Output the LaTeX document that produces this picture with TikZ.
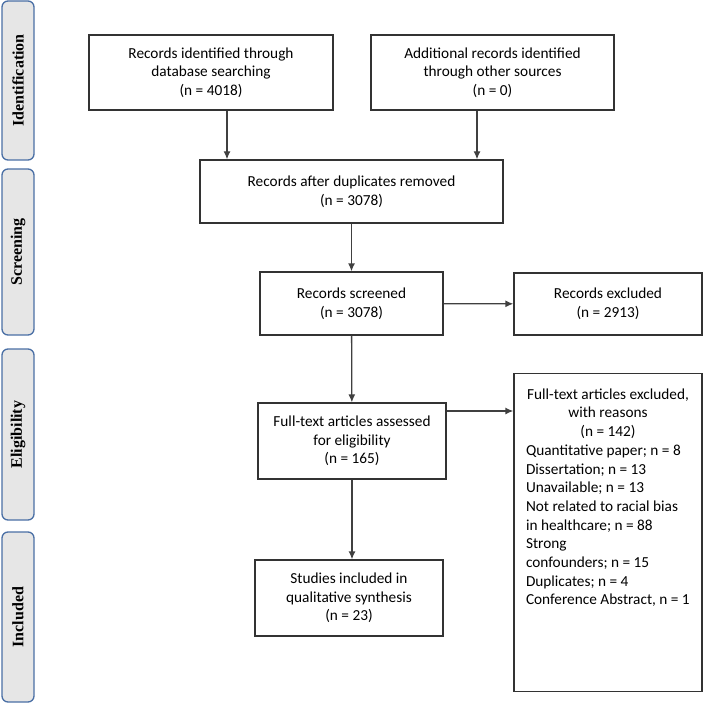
\documentclass[tikz,border=0pt]{standalone}
\usepackage{fontspec}
\setmainfont{Carlito}
\newfontfamily\stagefont{Liberation Serif}
\usetikzlibrary{arrows.meta,positioning,calc}

\definecolor{stageline}{HTML}{4A6FA5}
\definecolor{stagefill}{HTML}{E6E6E6}

\begin{document}
\begin{tikzpicture}[x=1pt,y=-1pt,
box/.style={draw=black!80,line width=1.3pt,rectangle,align=center,inner sep=0pt,
  font=\fontsize{15.3}{18.7}\selectfont},
stage/.style={draw=stageline,fill=stagefill,line width=1.3pt,rounded corners=6pt,
  rotate=90,minimum height=32pt,inner sep=0pt,font=\stagefont\bfseries\fontsize{16}{19}\selectfont},
arr/.style={draw=black!75,line width=1.3pt,-{Latex[length=8pt,width=7pt]}}]

\useasboundingbox (0,0) rectangle (703,703);

% stage labels
\node[stage,minimum width=159pt] (sid) at (18,80.5) {Identification};
\node[stage,minimum width=166pt] (ssc) at (18,252) {Screening};
\node[stage,minimum width=171pt] (sel) at (18,434.5) {Eligibility};
\node[stage,minimum width=170pt] (sin) at (18,617) {Included};

% flow boxes
\node[box,minimum width=244pt,minimum height=75pt] (ident) at (211,72.5)
  {Records identified through\\database searching\\(n = 4018)};
\node[box,minimum width=243pt,minimum height=75pt] (addit) at (492.5,72.5)
  {Additional records identified\\through other sources\\(n = 0)};
\node[box,minimum width=303pt,minimum height=63pt] (dups) at (351.5,191.5)
  {Records after duplicates removed\\(n = 3078)};
\node[box,minimum width=183pt,minimum height=63pt] (screen) at (351.5,303.5)
  {Records screened\\(n = 3078)};
\node[box,minimum width=188pt,minimum height=62pt] (excl) at (608,304)
  {Records excluded\\(n = 2913)};
\node[box,minimum width=188pt,minimum height=76pt] (assess) at (352,441)
  {Full-text articles assessed\\for eligibility\\(n = 165)};
\node[box,minimum width=188pt,minimum height=76pt] (incl) at (349,598)
  {Studies included in\\qualitative synthesis\\(n = 23)};
\node[box,anchor=north,minimum width=188pt,minimum height=318pt,inner xsep=12pt,inner ysep=15pt] (ftex) at (608,373)
  {\begin{minipage}[t][288pt][t]{164pt}
  {\centering Full-text articles excluded,\\with reasons\\(n = 142)\par}
  \raggedright
  Quantitative paper; n = 8\\
  Dissertation; n = 13\\
  Unavailable; n = 13\\
  Not related to racial bias\\
  in healthcare; n = 88\\
  Strong\\
  confounders; n = 15\\
  Duplicates; n = 4\\
  Conference Abstract, n = 1
  \end{minipage}};

% connectors
\draw[arr] ([xshift=16pt]ident.south) -- ([xshift=16pt]ident.south |- dups.north);
\draw[arr] ([xshift=-15.5pt]addit.south) -- ([xshift=-15.5pt]addit.south |- dups.north);
\draw[arr] (dups) -- (screen);
\draw[arr] (screen) -- (excl);
\draw[arr] (screen) -- (assess);
\draw[arr] ([yshift=30pt]assess.east) -- ([yshift=30pt]assess.east -| ftex.west);
\draw[arr] (assess.south -| incl.north) ++(3pt,0) -- ([xshift=3pt]incl.north);
\end{tikzpicture}
\end{document}
